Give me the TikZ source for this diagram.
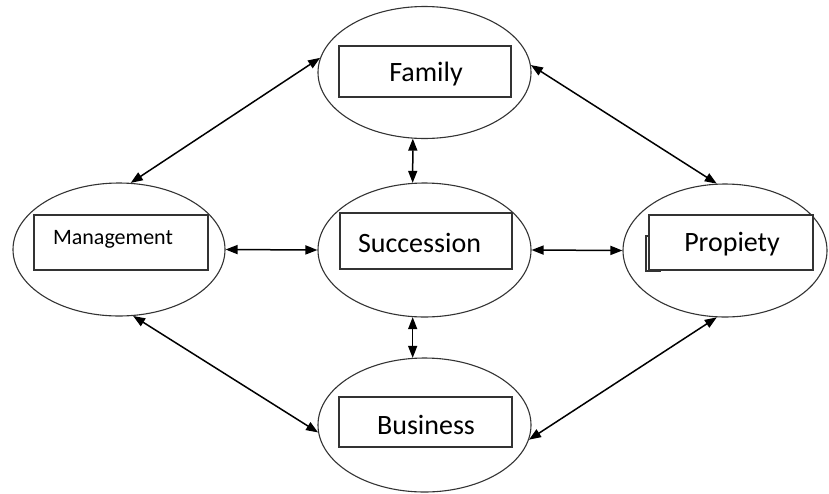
\documentclass[tikz,border=0pt]{standalone}
\usepackage{fontspec}
\setmainfont{Carlito}
\usetikzlibrary{shapes.geometric,arrows.meta}
\begin{document}
\begin{tikzpicture}[x=1pt,y=-1pt,
  bubble/.style={ellipse,draw=black!80,line width=1.1pt,inner sep=0pt},
  tag/.style={rectangle,draw=black!80,line width=1.4pt,fill=white,inner sep=0pt},
  word/.style={inner sep=0pt,font=\fontsize{28}{32}\selectfont},
  link/.style={line width=1.5pt,{Triangle[length=12pt,width=9pt]}-{Triangle[length=12pt,width=9pt]}}]
\useasboundingbox (0,0) rectangle (829,493);
% ellipses
\node[bubble,minimum width=213pt,minimum height=132pt] (fam)  at (424.5,72.5) {};
\node[bubble,minimum width=212pt,minimum height=133pt] (mgmt) at (119,249.5) {};
\node[bubble,minimum width=204pt,minimum height=133pt] (prop) at (725,250.5) {};
\node[bubble,minimum width=213pt,minimum height=134pt] (succ) at (424.5,250) {};
\node[bubble,minimum width=213pt,minimum height=134pt] (bus)  at (424.5,425) {};
% boxes inside the ellipses
\node[tag,minimum width=172pt,minimum height=51pt] (famR)  at (425,71.5) {};
\node[tag,minimum width=172pt,minimum height=56pt] (succR) at (426,241) {};
\node[tag,minimum width=174pt,minimum height=55pt] (mgmtR) at (121,242.5) {};
\node[tag,minimum width=14pt,minimum height=35pt]  (propB) at (653,253.5) {};
\node[tag,minimum width=164pt,minimum height=55pt] (propR) at (731,242.5) {};
\node[tag,minimum width=173pt,minimum height=50pt] (busR)  at (425.5,422) {};
% labels
\node[word] (famT)  at (426,74) {Family};
\node[word] (succT) at (419.5,243) {Succession};
\node[inner sep=0pt,font=\fontsize{22}{26}\selectfont] (mgmtT) at (113,239) {Management};
\node[word] (propT) at (732,244) {Propiety};
\node[word] (busT)  at (426,425) {Business};
% connectors
\draw[link] (fam.172) -- (mgmt.80);
\draw[link] (fam.4) -- (prop.97);
\draw[link] (mgmt.282) -- (bus.184);
\draw[link] (bus.352) -- (prop.263);
\draw[link] (mgmt.east) -- (succ.west);
\draw[link] (succ.east) -- (prop.west);
\draw[link] (fam.260) -- (succ.100);
\draw[link] (succ.260) -- (bus.100);
\end{tikzpicture}
\end{document}
